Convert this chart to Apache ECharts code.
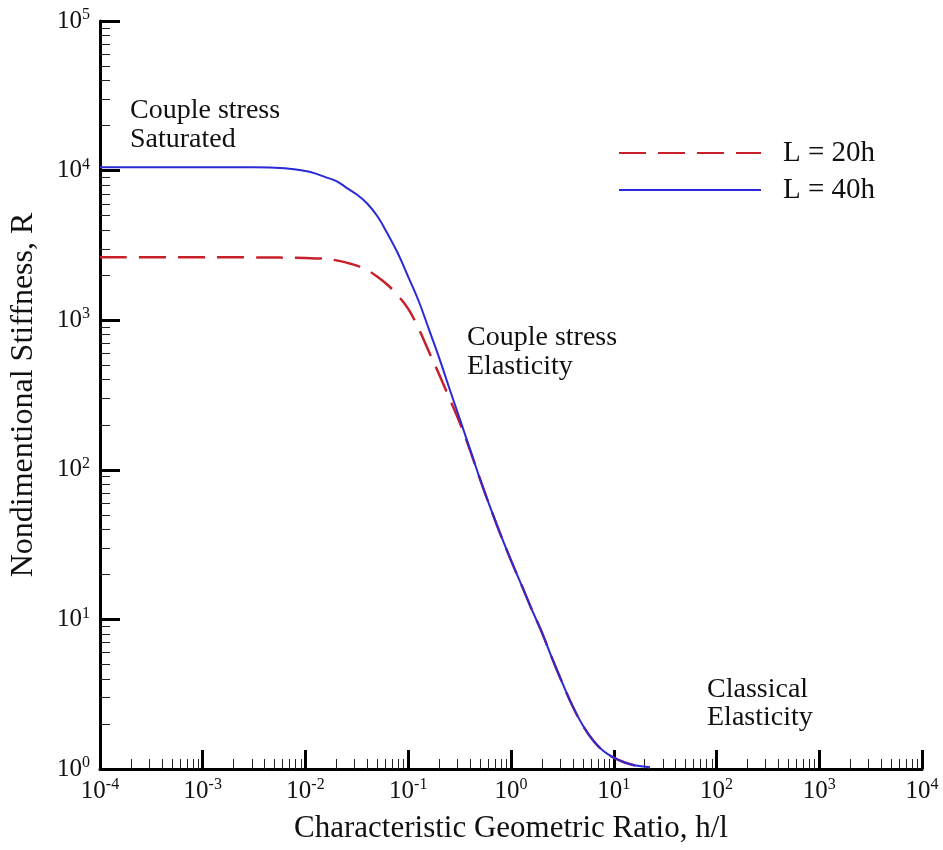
<!DOCTYPE html>
<html>
<head>
<meta charset="UTF-8">
<title>Nondimentional Stiffness</title>
<style>
html,body{margin:0;padding:0;background:#fff;}
#main{width:943px;height:850px;}
</style>
</head>
<body>
<div id="main"></div>
<script src="https://cdn.jsdelivr.net/npm/echarts@6/dist/echarts.min.js"></script>
<script>
// h/l values (x) and stiffness R
var ratio = [1e-4, 1e-3, 0.00316, 0.00631, 0.01, 0.0126, 0.0158, 0.02, 0.0251, 0.0316, 0.0398, 0.0501, 0.0631, 0.0794,
	0.1, 0.126, 0.158, 0.2, 0.251, 0.316, 0.398, 0.501, 0.631, 0.794,
	1, 1.26, 1.58, 2.0, 2.51, 3.16, 3.98, 5.01, 6.31, 7.94, 10, 12.6, 15.8, 22.4];
var stiff20 = [2630, 2630, 2630, 2618, 2600, 2588, 2570, 2512, 2427, 2317, 2163, 1950, 1718, 1462,
	1189, 881, 622, 434, 302, 208, 136, 86.1, 55.6, 36.7,
	24.8, 17.1, 11.8, 8.17, 5.50, 3.76, 2.63, 1.95, 1.55, 1.318, 1.191, 1.109, 1.059, 1.028];
var stiff40 = [10520, 10520, 10520, 10350, 9930, 9550, 9016, 8511, 7674, 6918, 6026, 4955, 3767, 2793,
	1950, 1349, 879, 560, 351, 221, 138, 86.1, 55.6, 36.7,
	24.8, 17.1, 11.8, 8.17, 5.50, 3.76, 2.63, 1.95, 1.55, 1.318, 1.191, 1.109, 1.059, 1.028];
var names = ['L = 20h', 'L = 40h'];

var FONT = 'Liberation Serif';

function pairs(xs, ys) {
	var out = [];
	for (var i = 0; i < xs.length; i++) out.push([xs[i], ys[i]]);
	return out;
}
// minor ticks 2..9 of each decade
function minorTicks(lo, hi) {
	var v = [];
	for (var k = lo; k < hi; k++) {
		for (var m = 2; m <= 9; m++) v.push(m * Math.pow(10, k));
	}
	return v;
}
function powLabel(value) {
	var e = Math.round(Math.log10(value));
	return '{b|10}{s|' + e + '}';
}
var richLab = {
	b: {fontFamily: FONT, fontSize: 25, color: '#111'},
	s: {fontFamily: FONT, fontSize: 16, color: '#111', padding: [0, 0, 12, 0]}
};

var chart = echarts.init(document.getElementById('main'));
var option = {
	backgroundColor: '#fff',
	animation: false,
	grid: {left: 100, right: 21, top: 21, bottom: 81, containLabel: false},
	legend: {
		orient: 'vertical',
		left: 618,
		top: 138,
		padding: 0,
		itemWidth: 142,
		itemHeight: 2,
		itemGap: 7,
		itemStyle: {opacity: 0},
		data: names,
		textStyle: {fontFamily: FONT, fontSize: 29, lineHeight: 30, color: '#111', padding: [0, 0, 0, 17]}
	},
	xAxis: [{
		type: 'log',
		logBase: 10,
		min: 1e-4,
		max: 1e4,
		interval: 1,
		name: 'Characteristic Geometric Ratio, h/l',
		nameLocation: 'middle',
		nameGap: 44,
		nameTextStyle: {fontFamily: FONT, fontSize: 31, color: '#111'},
		axisLine: {show: true, onZero: false, lineStyle: {color: '#000', width: 3}},
		axisTick: {show: true, inside: true, length: 19, lineStyle: {color: '#000', width: 3}},
		axisLabel: {margin: 8, formatter: powLabel, rich: richLab},
		splitLine: {show: false}
	}, {
		type: 'log',
		logBase: 10,
		min: 1e-4,
		max: 1e4,
		position: 'bottom',
		axisLine: {show: false},
		axisTick: {show: true, inside: true, length: 10, customValues: minorTicks(-4, 4), lineStyle: {color: '#222', width: 1}},
		axisLabel: {show: false},
		splitLine: {show: false}
	}],
	yAxis: [{
		type: 'log',
		logBase: 10,
		min: 1,
		max: 1e5,
		interval: 1,
		name: 'Nondimentional Stiffness, R',
		nameLocation: 'middle',
		nameGap: 60,
		nameTextStyle: {fontFamily: FONT, fontSize: 32, color: '#111'},
		axisLine: {show: true, onZero: false, lineStyle: {color: '#000', width: 3}},
		axisTick: {show: true, inside: true, length: 20, lineStyle: {color: '#000', width: 3}},
		axisLabel: {margin: 10, formatter: powLabel, rich: richLab},
		splitLine: {show: false}
	}, {
		type: 'log',
		logBase: 10,
		min: 1,
		max: 1e5,
		position: 'left',
		axisLine: {show: false},
		axisTick: {show: true, inside: true, length: 10, customValues: minorTicks(0, 5), lineStyle: {color: '#222', width: 1}},
		axisLabel: {show: false},
		splitLine: {show: false}
	}],
	series: [{
		name: names[0],
		type: 'line',
		data: pairs(ratio, stiff20),
		smooth: 0.4,
		symbol: 'none',
		lineStyle: {color: '#c8202a', width: 2.5, type: [27, 12]},
		itemStyle: {color: '#c8202a'}
	}, {
		name: names[1],
		type: 'line',
		data: pairs(ratio, stiff40),
		smooth: 0.4,
		symbol: 'none',
		lineStyle: {color: '#2a2ad8', width: 2},
		itemStyle: {color: '#2a2ad8'}
	}],
	graphic: [
		{type: 'text', left: 130, top: 96, style: {text: 'Couple stress\nSaturated', font: '28px "Liberation Serif"', lineHeight: 29, fill: '#111'}},
		{type: 'text', left: 467, top: 323, style: {text: 'Couple stress\nElasticity', font: '28px "Liberation Serif"', lineHeight: 29, fill: '#111'}},
		{type: 'text', left: 707, top: 676, style: {text: 'Classical\nElasticity', font: '28px "Liberation Serif"', lineHeight: 28, fill: '#111'}}
	]
};
chart.setOption(option);
</script>
</body>
</html>
